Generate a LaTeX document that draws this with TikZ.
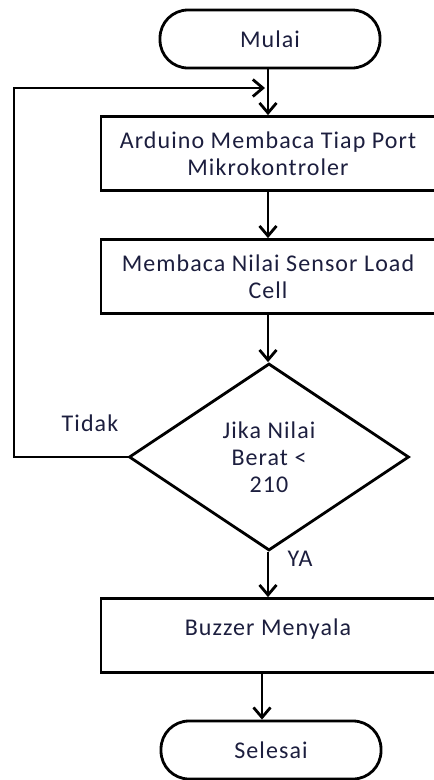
\documentclass[tikz,border=0pt]{standalone}
\usepackage{fontspec}
\setmainfont{Carlito}[LetterSpace=4.5]
\usetikzlibrary{arrows.meta,shapes.geometric,positioning}
\definecolor{txtnavy}{RGB}{28,30,62}

\begin{document}
\begin{tikzpicture}[
  x=1pt, y=-1pt,
  >={Straight Barb[length=10pt,width=17pt]},
  font=\fontsize{24}{27}\selectfont,
  line width=2.8pt,
  terminal/.style={draw, rounded corners=28pt, minimum width=220pt, minimum height=58pt, text=txtnavy},
  process/.style={draw, minimum width=334pt, minimum height=74pt, align=center, text=txtnavy},
  decision/.style={draw, diamond, aspect=1.5, minimum width=280pt, minimum height=187pt, inner sep=0pt, align=center, text=txtnavy},
  flow/.style={->},
  note/.style={text=txtnavy}
]
\useasboundingbox (0,0) rectangle (434,780);

\node[terminal] (start) at (270,39) {Mulai};
\node[process] (readport) at (268,153.5) {Arduino Membaca Tiap Port\\Mikrokontroler};
\node[process] (readsensor) at (268,276.5) {Membaca Nilai Sensor Load\\Cell};
\node[decision] (check) at (269,457) {Jika Nilai\\Berat <\\210};
\node[process] (buzzer) at (268,635.5) {Buzzer Menyala\\[-18pt]\strut};
\node[terminal] (stop) at (271,750) {Selesai};

\coordinate (loopbot) at (14,457);
\coordinate (looptop) at (14,88);
\coordinate (merge) at (265,88);

\draw[flow] (start.south -| readport.north) -- (readport.north);
\draw[flow] (readport) -- (readsensor);
\draw[flow] (readsensor.south) -- (readsensor.south |- check.north);
\draw[flow] (check.south -| buzzer.north) -- (buzzer.north);
\draw[flow] ([xshift=-6pt]buzzer.south) -- ([xshift=-6pt]buzzer.south |- stop.north);
\draw[flow, line join=miter] (check.west) -- (loopbot) -- (looptop) -- (merge);

\node[note] (no) at (90,423) {Tidak};
\node[note] (yes) at (300,559) {YA};

\end{tikzpicture}
\end{document}
